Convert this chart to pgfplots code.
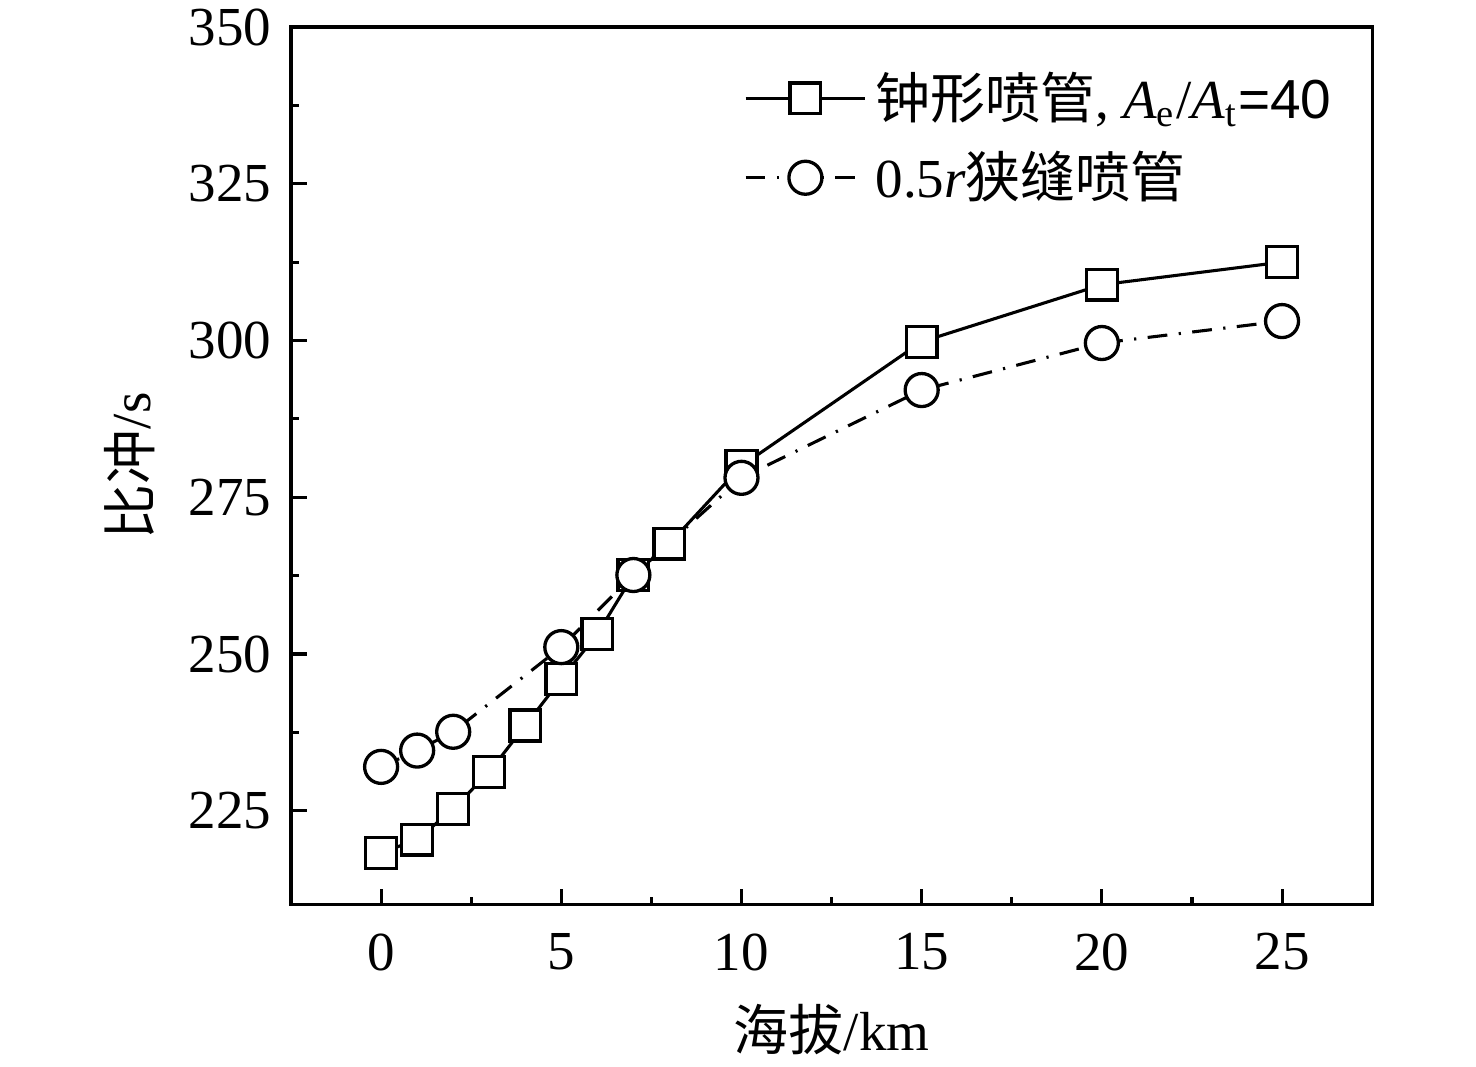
\documentclass[border=0pt]{standalone}
\usepackage{fontspec}
\setmainfont{Liberation Serif}
\newfontfamily\cjk{Noto Sans CJK SC}
\newfontfamily\arial{Liberation Sans}
\usepackage{pgfplots}
\pgfplotsset{compat=1.18}
\begin{document}
\begin{tikzpicture}
\path[use as bounding box] (-66.14pt,-36.82pt) rectangle (269.3pt,205.64pt);
\begin{axis}[
  scale only axis,
  width=245.7pt, height=199.5pt,
  xmin=-2.5, xmax=27.5,
  ymin=210, ymax=350,
  xtick={0,5,10,15,20,25},
  ytick={225,250,275,300,325,350},
  minor x tick num=1,
  minor y tick num=1,
  tick align=inside,
  xtick pos=bottom, ytick pos=left,
  major tick length=3.6pt,
  minor tick length=1.8pt,
  axis line style={line width=0.7pt},
  every tick/.style={line width=0.7pt, black},
  /pgf/number format/assume math mode=true,
  tick label style={font=\fontsize{12.5}{15}\selectfont},
  yticklabel style={xshift=-1pt},
  xticklabel style={yshift=-3pt},
  xlabel={{\cjk 海拔}/km},
  ylabel={{\cjk 比冲}/s},
  label style={font=\fontsize{12.5}{15}\selectfont},
  xlabel style={at={(axis description cs:0.5,0)}, anchor=center, yshift=-28.4pt},
  ylabel style={at={(axis description cs:0,0.5)}, anchor=center, yshift=36.6pt},
  legend style={at={(axis description cs:0.406,0.97)}, anchor=north west, draw=none, fill=none,
    font=\fontsize{12.5}{15}\selectfont, row sep=2pt},
  legend cell align=left,
  legend image code/.code={\draw[mark repeat=2,mark phase=2,#1] plot coordinates {(0pt,0pt)(13.6pt,0pt)(27.2pt,0pt)};},
]
\addplot[black, line width=0.7pt, mark=square*, mark size=3.5pt, mark options={fill=white, draw=black, solid, line width=0.75pt}]
coordinates {(0,218.3)(1,220.4)(2,225.3)(3,231.2)(4,238.6)(5,246.0)(6,253.2)(7,262.6)(8,267.6)(10,280.0)(15,299.8)(20,308.9)(25,312.5)};
\addlegendentry{{\cjk 钟形喷管}, \textit{A}\textsubscript{e}/\textit{A}\textsubscript{t}{\arial =40}}
\addplot[black, line width=0.7pt, dash pattern=on 4.5pt off 2.6pt on 0.5pt off 2.6pt, mark=*, mark size=3.75pt, mark options={fill=white, draw=black, solid, line width=0.75pt}]
coordinates {(0,232.0)(1,234.6)(2,237.6)(5,251.1)(7,262.6)(10,278.1)(15,292.1)(20,299.6)(25,303.1)};
\addlegendentry{0.5\textit{r}{\cjk 狭缝喷管}}
\end{axis}
\end{tikzpicture}
\end{document}
